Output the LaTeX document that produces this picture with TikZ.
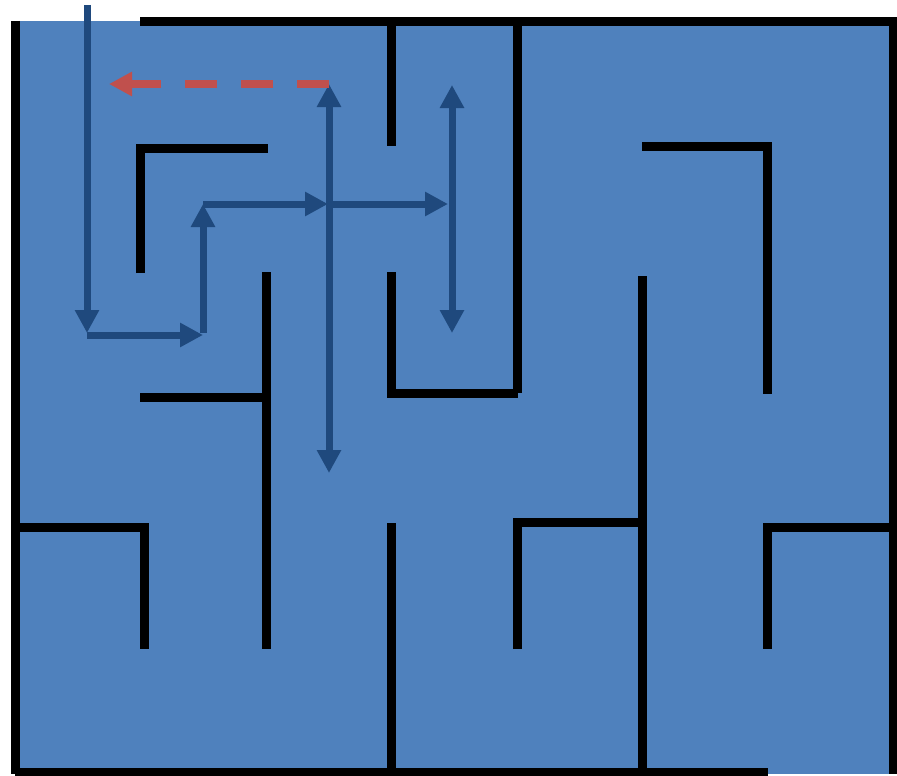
\documentclass[tikz,border=0pt]{standalone}
\usetikzlibrary{arrows.meta}
\definecolor{mazeblue}{RGB}{79,129,189}
\definecolor{pathblue}{RGB}{31,73,125}
\definecolor{pathred}{RGB}{192,80,77}
\tikzset{
  wall/.style={draw=black,line width=9pt,line cap=butt,line join=miter},
  route/.style={draw=pathblue,line width=7pt,-{Triangle[length=23pt,width=23pt]}},
  route2/.style={draw=pathblue,line width=7pt,{Triangle[length=23pt,width=23pt]}-{Triangle[length=23pt,width=23pt]}},
  back/.style={draw=pathred,line width=7.5pt,dash pattern=on 32pt off 24pt,-{Triangle[length=23pt,width=23pt]}}
}
\begin{document}
\begin{tikzpicture}[x=1pt,y=-1pt]
\useasboundingbox (0,0) rectangle (897,776);
\fill[mazeblue] (15,21) rectangle (893,774);
% outer walls
\draw[wall] (140,21.5) -- (893,21.5) -- (893,774);
\draw[wall] (15.5,21) -- (15.5,774);
\draw[wall] (15,772.5) -- (768,772.5);
% inner walls
\draw[wall] (391,21) -- (391,146);
\draw[wall] (517.5,21) -- (517.5,393);
\draw[wall] (140.5,273) -- (140.5,148) -- (268,148);
\draw[wall] (642,146.5) -- (767.5,146.5) -- (767.5,394);
\draw[wall] (266,272) -- (266,649);
\draw[wall] (140,397) -- (267,397);
\draw[wall] (391.5,272) -- (391.5,393.5) -- (517.5,393.5);
\draw[wall] (642.5,276) -- (642.5,772);
\draw[wall] (517.5,649) -- (517.5,522.5) -- (642,522.5);
\draw[wall] (15,527) -- (144.5,527) -- (144.5,649);
\draw[wall] (391.5,523) -- (391.5,772);
\draw[wall] (893,527) -- (767.5,527) -- (767.5,649);
% route coordinates
\coordinate (s) at (87,5);
\coordinate (p1) at (87,333);
\coordinate (p1b) at (87,335);
\coordinate (p2) at (203,335);
\coordinate (p2b) at (203,333);
\coordinate (p3) at (203,204);
\coordinate (p4) at (328,204);
\coordinate (c) at (329,204);
\coordinate (ctop) at (329,84);
\coordinate (cbot) at (329,473);
\coordinate (p5) at (448,204);
\coordinate (dtop) at (452,85);
\coordinate (dbot) at (452,333);
\coordinate (e) at (109,84);
% routes
\draw[route] (s) -- (p1);
\draw[route] (p1b) -- (p2);
\draw[route] (p2b) -- (p3);
\draw[route] (p3) -- (p4);
\draw[route2] (cbot) -- (ctop);
\draw[route] (c) -- (p5);
\draw[route2] (dtop) -- (dbot);
\draw[back] (ctop) -- (e);
\end{tikzpicture}
\end{document}
